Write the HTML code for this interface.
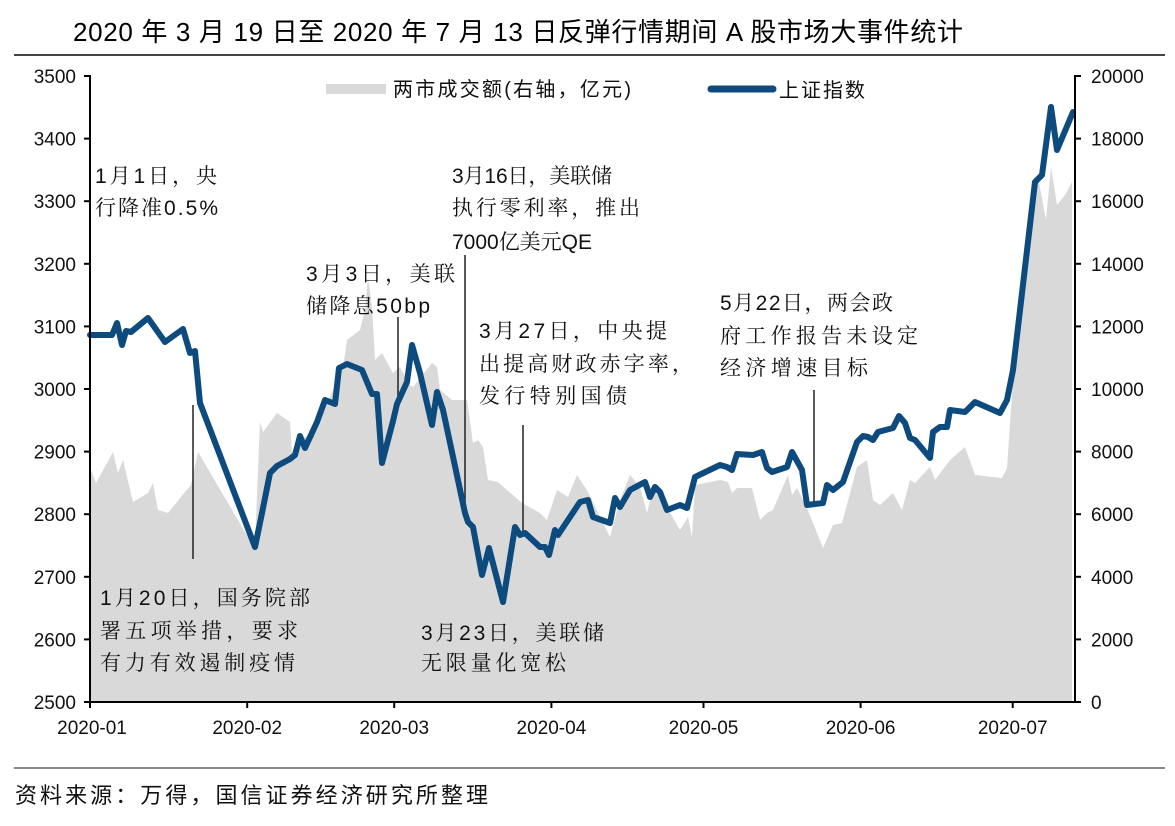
<!DOCTYPE html>
<html><head><meta charset="utf-8"><style>
html,body{margin:0;padding:0;background:#fff;}
svg{display:block;}
.ax{font-family:"Liberation Sans","Noto Sans CJK SC",sans-serif;font-size:19px;fill:#111;}
.an{font-family:"Liberation Sans","Noto Serif CJK SC",serif;font-size:21px;fill:#111;}
</style></head><body>
<svg width="1175" height="826" viewBox="0 0 1175 826" xmlns="http://www.w3.org/2000/svg">
<!-- title -->
<text x="73" y="41" font-family="Liberation Sans, Noto Sans CJK SC, sans-serif" font-size="26" fill="#000" textLength="890" lengthAdjust="spacing">2020 年 3 月 19 日至 2020 年 7 月 13 日反弹行情期间 A 股市场大事件统计</text>
<line x1="14" y1="55" x2="1165" y2="55" stroke="#444" stroke-width="2"/>

<!-- area -->
<polygon fill="#d9d9d9" points="90,702 90,467 96,483 113,452 118,473 123,460 133,502 148,493 153,483 158,510 168,513 185,492 191,485 198,452 248,537 255,545 260,422 263,432 277,413 290,422 292,453 300,440 317,430 327,403 343,368 347,340 360,330 365,310 368,277 372,307 375,360 382,353 393,373 400,367 410,385 413,387 432,363 437,367 440,390 452,400 467,400 473,443 478,440 483,447 488,480 498,482 507,490 522,503 540,513 547,520 557,490 568,497 577,475 588,492 600,517 610,537 620,500 630,475 640,487 647,513 653,487 667,507 673,518 680,530 688,517 692,537 695,485 720,480 728,482 732,493 737,488 752,488 760,520 767,513 773,510 788,475 792,495 797,488 807,508 823,548 833,525 842,523 857,467 867,460 873,500 880,505 893,493 902,510 910,480 915,483 930,467 935,480 950,460 965,447 975,475 1002,478 1007,468 1013,380 1020,290 1027,230 1033,180 1038,177 1046,220 1051,167 1057,205 1065,195 1072,182 1072,702"/>

<!-- annotation lines -->
<g stroke="#222" stroke-width="1.5">
<line x1="193" y1="405" x2="193" y2="559"/>
<line x1="398" y1="317" x2="398" y2="403"/>
<line x1="465" y1="255" x2="465" y2="503"/>
<line x1="523" y1="425" x2="523" y2="537"/>
<line x1="814" y1="390" x2="814" y2="502"/>
</g>

<!-- index line -->
<polyline fill="none" stroke="#0d4a7e" stroke-width="6" stroke-linejoin="round" stroke-linecap="round" points="90,335 112,335 117,323 122,345 126,331 131,332 148,318 165,342 183,329 190,353 195,351 200,403 255,547 262,513 270,473 277,466 290,459 295,455 300,436 305,448 317,422 325,400 335,404 339,368 347,364 362,370 372,394 377,394 382,463 393,421 397,404 407,382 412,345 420,373 432,425 437,392 443,410 465,513 468,522 473,527 482,575 489,548 503,602 515,527 520,535 525,533 540,547 545,547 549,555 555,530 558,535 580,502 588,500 593,517 610,523 615,498 620,507 630,490 645,482 650,497 655,487 660,492 667,510 680,505 687,508 695,477 720,465 727,467 732,470 737,454 753,455 762,452 767,468 772,472 787,467 792,452 802,470 807,505 823,503 827,485 833,490 843,482 857,442 863,436 868,437 873,440 878,432 893,428 899,416 905,423 910,438 915,440 930,458 933,432 940,427 947,427 950,410 965,412 975,402 1000,413 1007,400 1013,370 1035,182 1042,175 1051,107 1057,150 1073,112"/>

<!-- axes -->
<g stroke="#000" stroke-width="2" fill="none">
<line x1="90" y1="75" x2="90" y2="703"/>
<line x1="1075" y1="75" x2="1075" y2="703"/>
<line x1="89" y1="702" x2="1076" y2="702"/>
<line x1="84" y1="76" x2="90" y2="76"/><line x1="84" y1="138.6" x2="90" y2="138.6"/><line x1="84" y1="201.2" x2="90" y2="201.2"/><line x1="84" y1="263.8" x2="90" y2="263.8"/><line x1="84" y1="326.4" x2="90" y2="326.4"/><line x1="84" y1="389" x2="90" y2="389"/><line x1="84" y1="451.6" x2="90" y2="451.6"/><line x1="84" y1="514.2" x2="90" y2="514.2"/><line x1="84" y1="576.8" x2="90" y2="576.8"/><line x1="84" y1="639.4" x2="90" y2="639.4"/><line x1="84" y1="702" x2="90" y2="702"/>
<line x1="1075" y1="76" x2="1081" y2="76"/><line x1="1075" y1="138.6" x2="1081" y2="138.6"/><line x1="1075" y1="201.2" x2="1081" y2="201.2"/><line x1="1075" y1="263.8" x2="1081" y2="263.8"/><line x1="1075" y1="326.4" x2="1081" y2="326.4"/><line x1="1075" y1="389" x2="1081" y2="389"/><line x1="1075" y1="451.6" x2="1081" y2="451.6"/><line x1="1075" y1="514.2" x2="1081" y2="514.2"/><line x1="1075" y1="576.8" x2="1081" y2="576.8"/><line x1="1075" y1="639.4" x2="1081" y2="639.4"/><line x1="1075" y1="702" x2="1081" y2="702"/>
<line x1="90" y1="702" x2="90" y2="708"/><line x1="247.2" y1="702" x2="247.2" y2="708"/><line x1="394.2" y1="702" x2="394.2" y2="708"/><line x1="551.4" y1="702" x2="551.4" y2="708"/><line x1="703.5" y1="702" x2="703.5" y2="708"/><line x1="860.6" y1="702" x2="860.6" y2="708"/><line x1="1012.7" y1="702" x2="1012.7" y2="708"/>
</g>

<!-- left labels -->
<g class="ax" text-anchor="end">
<text x="76" y="83">3500</text><text x="76" y="145.6">3400</text><text x="76" y="208.2">3300</text><text x="76" y="270.8">3200</text><text x="76" y="333.4">3100</text><text x="76" y="396">3000</text><text x="76" y="458.6">2900</text><text x="76" y="521.2">2800</text><text x="76" y="583.8">2700</text><text x="76" y="646.4">2600</text><text x="76" y="709">2500</text>
</g>
<!-- right labels -->
<g class="ax">
<text x="1091" y="83">20000</text><text x="1091" y="145.6">18000</text><text x="1091" y="208.2">16000</text><text x="1091" y="270.8">14000</text><text x="1091" y="333.4">12000</text><text x="1091" y="396">10000</text><text x="1091" y="458.6">8000</text><text x="1091" y="521.2">6000</text><text x="1091" y="583.8">4000</text><text x="1091" y="646.4">2000</text><text x="1091" y="709">0</text>
</g>
<!-- x labels -->
<g class="ax" text-anchor="middle">
<text x="92" y="734">2020-01</text><text x="247.2" y="734">2020-02</text><text x="394.2" y="734">2020-03</text><text x="551.4" y="734">2020-04</text><text x="703.5" y="734">2020-05</text><text x="860.6" y="734">2020-06</text><text x="1012.7" y="734">2020-07</text>
</g>

<!-- legend -->
<rect x="326" y="84" width="60" height="10" fill="#d9d9d9"/>
<text x="393" y="96" font-family="Liberation Sans, Noto Sans CJK SC, sans-serif" font-size="20" fill="#111" textLength="238" lengthAdjust="spacing">两市成交额(右轴，亿元)</text>
<line x1="711" y1="89" x2="773" y2="89" stroke="#0d4a7e" stroke-width="7" stroke-linecap="round"/>
<text x="779" y="97" font-family="Liberation Sans, Noto Sans CJK SC, sans-serif" font-size="20" fill="#111" textLength="86" lengthAdjust="spacing">上证指数</text>

<!-- annotations -->
<g class="an">
<text x="95" y="183" textLength="122" lengthAdjust="spacing">1月1日，央</text>
<text x="95" y="215" textLength="123" lengthAdjust="spacing">行降准0.5%</text>

<text x="100" y="605" textLength="210" lengthAdjust="spacing">1月20日，国务院部</text>
<text x="100" y="638" textLength="198" lengthAdjust="spacing">署五项举措，要求</text>
<text x="100" y="670" textLength="195" lengthAdjust="spacing">有力有效遏制疫情</text>

<text x="306" y="281" textLength="149" lengthAdjust="spacing">3月3日，美联</text>
<text x="306" y="313" textLength="124" lengthAdjust="spacing">储降息50bp</text>

<text x="452" y="183" textLength="160" lengthAdjust="spacing">3月16日，美联储</text>
<text x="452" y="215" textLength="188" lengthAdjust="spacing">执行零利率，推出</text>
<text x="452" y="249" textLength="140" lengthAdjust="spacing">7000亿美元QE</text>

<text x="479" y="338" textLength="188" lengthAdjust="spacing">3月27日，中央提</text>
<text x="479" y="371" textLength="214" lengthAdjust="spacing">出提高财政赤字率，</text>
<text x="479" y="403" textLength="148" lengthAdjust="spacing">发行特别国债</text>

<text x="421" y="640" textLength="183" lengthAdjust="spacing">3月23日，美联储</text>
<text x="421" y="670" textLength="145" lengthAdjust="spacing">无限量化宽松</text>

<text x="720" y="310" textLength="173" lengthAdjust="spacing">5月22日，两会政</text>
<text x="720" y="343" textLength="198" lengthAdjust="spacing">府工作报告未设定</text>
<text x="720" y="375" textLength="148" lengthAdjust="spacing">经济增速目标</text>
</g>

<!-- footer -->
<line x1="14" y1="768" x2="1165" y2="768" stroke="#888" stroke-width="2"/>
<text x="15" y="803" font-family="Liberation Sans, Noto Sans CJK SC, sans-serif" font-size="22" fill="#111" textLength="473" lengthAdjust="spacing">资料来源：万得，国信证券经济研究所整理</text>
</svg>
</body></html>
